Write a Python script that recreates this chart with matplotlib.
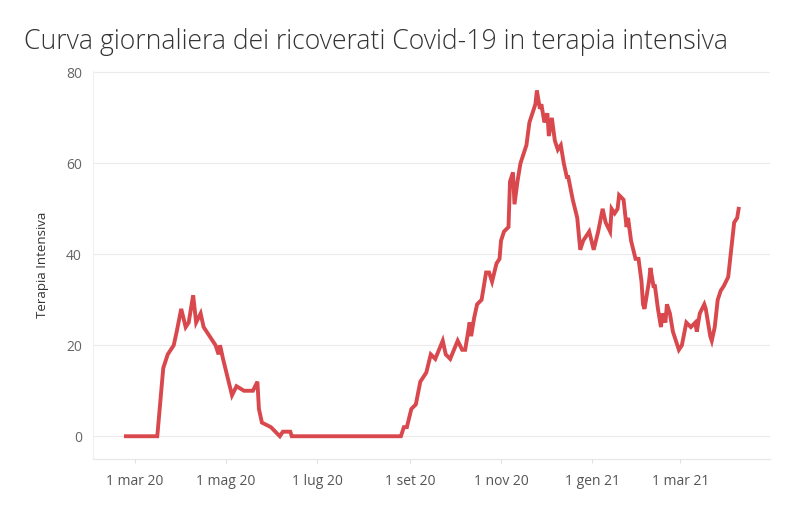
import matplotlib
matplotlib.use('Agg')
import matplotlib.pyplot as plt
import matplotlib.dates as mdates
import pandas as pd

# punti (data, ricoverati in terapia intensiva)
dates = [
    '2020-02-24', '2020-03-16', '2020-03-20', '2020-03-23', '2020-03-27', '2020-03-29',
    '2020-04-01', '2020-04-04', '2020-04-06', '2020-04-09', '2020-04-11', '2020-04-14',
    '2020-04-16', '2020-04-18', '2020-04-24', '2020-04-26', '2020-04-27', '2020-04-29',
    '2020-05-02', '2020-05-05', '2020-05-08', '2020-05-13', '2020-05-19', '2020-05-22',
    '2020-05-23', '2020-05-25', '2020-05-31', '2020-06-03', '2020-06-06', '2020-06-08',
    '2020-06-13', '2020-06-14', '2020-08-26', '2020-08-28', '2020-08-30', '2020-09-02',
    '2020-09-05', '2020-09-08', '2020-09-12', '2020-09-15', '2020-09-18', '2020-09-23',
    '2020-09-25', '2020-09-28', '2020-10-03', '2020-10-06', '2020-10-08', '2020-10-11',
    '2020-10-12', '2020-10-14', '2020-10-16', '2020-10-19', '2020-10-22', '2020-10-24',
    '2020-10-26', '2020-10-29', '2020-10-31', '2020-11-01', '2020-11-03', '2020-11-06',
    '2020-11-07', '2020-11-09', '2020-11-10', '2020-11-12', '2020-11-14', '2020-11-17',
    '2020-11-18', '2020-11-20', '2020-11-22', '2020-11-24', '2020-11-25', '2020-11-27',
    '2020-11-28', '2020-11-30', '2020-12-02', '2020-12-03', '2020-12-05', '2020-12-07',
    '2020-12-09', '2020-12-11', '2020-12-13', '2020-12-15', '2020-12-16', '2020-12-19',
    '2020-12-22', '2020-12-24', '2020-12-26', '2020-12-30', '2021-01-02', '2021-01-05',
    '2021-01-08', '2021-01-10', '2021-01-13', '2021-01-14', '2021-01-16', '2021-01-18',
    '2021-01-19', '2021-01-22', '2021-01-24', '2021-01-25', '2021-01-27', '2021-01-30',
    '2021-02-01', '2021-02-03', '2021-02-04', '2021-02-05', '2021-02-08', '2021-02-09',
    '2021-02-11', '2021-02-12', '2021-02-14', '2021-02-16', '2021-02-17', '2021-02-19',
    '2021-02-20', '2021-02-22', '2021-02-24', '2021-02-26', '2021-02-28', '2021-03-02',
    '2021-03-05', '2021-03-08', '2021-03-11', '2021-03-12', '2021-03-14', '2021-03-17',
    '2021-03-18', '2021-03-21', '2021-03-22', '2021-03-24', '2021-03-26', '2021-03-28',
    '2021-03-30', '2021-04-02', '2021-04-04', '2021-04-06', '2021-04-08', '2021-04-09',
]
values = [
    0, 0, 15, 18, 20, 23,
    28, 24, 25, 31, 25, 27,
    24, 23, 20, 18, 20, 17,
    13, 9, 11, 10, 10, 12,
    6, 3, 2, 1, 0, 1,
    1, 0, 0, 2, 2, 6,
    7, 12, 14, 18, 17, 21,
    18, 17, 21, 19, 19, 25,
    22, 26, 29, 30, 36, 36,
    34, 38, 39, 43, 45, 46,
    56, 58, 51, 56, 60, 63,
    64, 69, 71, 73, 76, 72,
    73, 69, 71, 66, 70, 65,
    63, 64, 60, 57, 57, 52,
    48, 41, 43, 45, 41, 45,
    50, 47, 45, 50, 49, 50,
    53, 52, 46, 48, 43, 39,
    39, 34, 29, 28, 34, 37,
    33, 33, 28, 24, 27, 25,
    29, 27, 23, 21, 19, 20,
    25, 24, 25, 23, 27, 29,
    28, 22, 21, 24, 30, 32,
    33, 35, 41, 47, 48, 50,
]

mesi = ['gen', 'feb', 'mar', 'apr', 'mag', 'giu', 'lug', 'ago', 'set', 'ott', 'nov', 'dic']

plt.rcParams['font.family'] = ['Open Sans', 'DejaVu Sans']

x = pd.to_datetime(dates)

fig = plt.figure(figsize=(7.91, 5.13), dpi=100)
ax = fig.add_axes([0.1176, 0.1053, 0.8559, 0.7563])

ax.plot(x, values, color='#d9484c', linewidth=2.8, solid_joinstyle='miter')

ax.set_ylim(-5, 80.3)
ax.set_xlim(pd.Timestamp('2020-02-02'), pd.Timestamp('2021-04-30'))
ax.set_yticks([0, 20, 40, 60, 80])
ax.grid(axis='y', color='#ebebeb', linewidth=0.8)
ax.set_axisbelow(True)

ax.xaxis.set_major_locator(mdates.MonthLocator(bymonth=[1, 3, 5, 7, 9, 11]))
ax.xaxis.set_major_formatter(plt.FuncFormatter(
    lambda v, pos: '1 %s %s' % (mesi[mdates.num2date(v).month - 1], mdates.num2date(v).strftime('%y'))))

for s in ['top', 'right']:
    ax.spines[s].set_visible(False)
ax.spines['left'].set_color('#f0f0f0')
ax.spines['bottom'].set_color('#e6e6e6')
ax.tick_params(axis='y', length=0, labelsize=10, labelcolor='#666666', pad=8)
ax.tick_params(axis='x', length=3, color='#e0e0e0', labelsize=10, labelcolor='#555555', pad=8)

ax.set_ylabel('Terapia Intensiva', fontsize=9.5, color='#333333', labelpad=12)

fig.text(0.030, 0.905, 'Curva giornaliera dei ricoverati Covid-19 in terapia intensiva',
         fontsize=19.2, color='#333333', fontweight='light', va='baseline')

fig.savefig('out.png', dpi=100)
